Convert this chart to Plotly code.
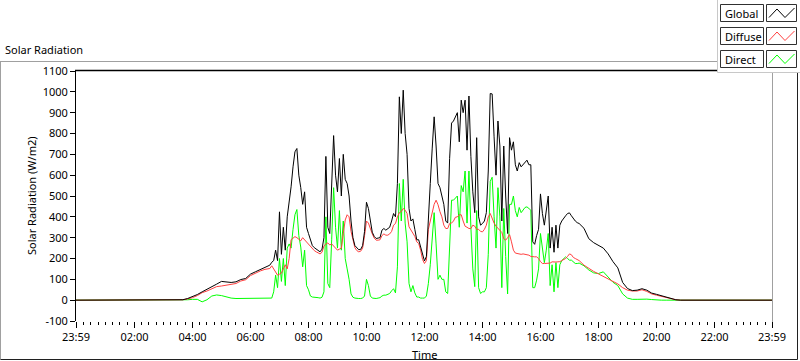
import plotly.graph_objects as go

# ---------------- data ----------------
# sample clock, minutes after midnight
early_minutes = list(range(210, 400, 10))    # 03:30 .. 06:30
day_minutes = list(range(400, 1041, 4))      # 06:40 .. 17:20
late_minutes = list(range(1050, 1261, 10))   # 17:30 .. 21:00

global_early = [0, 2, 8, 16, 27, 40, 51, 64, 77, 90, 88, 85, 88, 99, 104, 125, 136, 147, 157]
diffuse_early = [0, 2, 6, 12, 22, 36, 44, 56, 65, 68, 72, 75, 80, 92, 98, 118, 130, 140, 148]
direct_early = [0, 0, 2, 4, 4, -8, 2, 20, 25, 22, 16, 10, 8, 8, 8, 8, 8, 8, 8]

global_day = [
    168, 182, 190, 240, 190, 424, 220, 350, 240, 400,
    470, 544, 640, 712, 728, 600, 540, 460, 520, 350,
    320, 290, 262, 252, 246, 238, 232, 245, 300, 690,
    350, 320, 560, 790, 600, 520, 680, 500, 700, 580,
    560, 500, 380, 300, 262, 250, 242, 244, 262, 330,
    470, 440, 370, 326, 306, 296, 298, 300, 336, 344,
    336, 342, 350, 380, 416, 400, 560, 976, 800, 1008,
    800, 700, 440, 380, 390, 340, 290, 290, 255, 210,
    188, 210, 420, 560, 730, 880, 740, 560, 540, 500,
    460, 380, 370, 680, 850, 860, 880, 900, 760, 960,
    900, 960, 720, 980, 690, 520, 420, 780, 400, 360,
    368, 380, 420, 620, 992, 990, 784, 600, 860, 740,
    380, 740, 500, 320, 780, 720, 760, 650, 620, 660,
    640, 650, 660, 672, 650, 650, 280, 268, 310, 340,
    510, 416, 360, 420, 500, 250, 350, 230, 360, 250,
    360, 380, 395, 405, 416, 419, 405, 390, 380, 372,
    368]
diffuse_day = [
    152, 165, 150, 130, 120, 125, 130, 150, 170, 150,
    200, 290, 300, 305, 300, 290, 285, 300, 290, 280,
    270, 260, 245, 238, 232, 226, 222, 230, 260, 270,
    275, 265, 270, 260, 250, 240, 245, 250, 320, 385,
    410, 400, 330, 290, 252, 238, 232, 235, 250, 310,
    380, 370, 340, 318, 298, 288, 288, 290, 310, 318,
    312, 312, 318, 330, 360, 368, 400, 420, 425, 440,
    432, 416, 352, 336, 318, 306, 280, 272, 240, 195,
    176, 190, 340, 385, 420, 460, 480, 458, 425, 400,
    360, 344, 344, 368, 370, 380, 398, 400, 410, 410,
    380, 355, 350, 344, 344, 360, 355, 340, 340, 330,
    328, 340, 360, 400, 416, 390, 370, 355, 345, 336,
    325, 295, 288, 300, 315, 280, 240, 226, 224, 224,
    220, 222, 221, 220, 216, 210, 208, 208, 208, 200,
    185, 176, 176, 176, 176, 178, 184, 182, 183, 184,
    185, 190, 195, 200, 210, 222, 218, 205, 200, 195,
    190]
direct_day = [
    8, 10, 40, 120, 60, 200, 90, 200, 70, 250,
    270, 250, 340, 410, 435, 310, 255, 160, 240, 70,
    50, 20, 15, 15, 14, 12, 10, 14, 40, 400,
    80, 60, 290, 540, 350, 250, 430, 240, 380, 200,
    150, 100, 30, 14, 10, 8, 8, 8, 10, 20,
    100, 70, 20, 10, 8, 8, 10, 12, 20, 24,
    24, 30, 32, 45, 55, 35, 160, 560, 380, 580,
    370, 280, 80, 40, 70, 35, 15, 15, 10, 10,
    10, 20, 80, 170, 300, 420, 270, 100, 120, 100,
    100, 40, 32, 300, 480, 480, 490, 500, 350, 550,
    520, 620, 370, 620, 350, 150, 65, 430, 60, 32,
    40, 40, 60, 220, 570, 590, 400, 250, 540, 400,
    60, 440, 210, 30, 460, 460, 500, 430, 400, 445,
    420, 430, 445, 448, 440, 432, 60, 60, 96, 150,
    320, 240, 180, 240, 320, 70, 170, 40, 180, 60,
    170, 190, 200, 208, 200, 192, 192, 186, 176, 176,
    178]

global_late = [345, 295, 276, 262, 250, 222, 185, 155, 85, 56, 46, 48, 55, 48, 34, 28, 22, 16, 10, 2, 0, 0]
diffuse_late = [168, 152, 138, 126, 115, 102, 90, 78, 60, 48, 44, 44, 50, 42, 30, 24, 18, 13, 8, 2, 0, 0]
direct_late = [165, 145, 131, 128, 136, 110, 86, 70, 30, 10, 4, 4, 6, 5, 3, 0, 0, 0, 0, 0, 0, 0]

x_tick_labels = ["23:59", "02:00", "04:00", "06:00", "08:00", "10:00", "12:00",
                 "14:00", "16:00", "18:00", "20:00", "22:00", "23:59"]
y_tick_values = [-100, 0, 100, 200, 300, 400, 500, 600, 700, 800, 900, 1000, 1100]
series_names = ["Global", "Diffuse", "Direct"]
series_colors = ["#000000", "#ff4040", "#00ff00"]

# ---------------- build ----------------
DAY = "2024-01-02"
START = "2024-01-01 23:59"
END = "2024-01-02 23:59"


def stamp(m):
    return f"{DAY} {m // 60:02d}:{m % 60:02d}"


minutes = early_minutes + day_minutes + late_minutes
times = [START] + [stamp(m) for m in minutes] + [END]
series = {
    "Global": [0] + global_early + global_day + global_late + [0],
    "Diffuse": [0] + diffuse_early + diffuse_day + diffuse_late + [0],
    "Direct": [0] + direct_early + direct_day + direct_late + [0],
}

W, H = 800, 361
L, R, T, B = 76, 28, 71, 40
PW, PH = W - L - R, H - T - B


def fx(px):
    return (px - L) / PW


def fy(py):
    return (H - B - py) / PH


FONT = "Noto Sans"
FS = 11

fig = go.Figure()
# draw order: Direct, Diffuse, Global on top
for name in ["Direct", "Diffuse", "Global"]:
    col = series_colors[series_names.index(name)]
    fig.add_trace(go.Scatter(x=times, y=series[name], mode="lines", name=name,
                             line=dict(color=col, width=1), showlegend=False))

tick_vals = [START] + [f"{DAY} {h:02d}:00" for h in range(2, 23, 2)] + [END]

shapes = []


def line(x0, y0, x1, y1, color, width=1):
    shapes.append(dict(type="line", xref="paper", yref="paper",
                       x0=fx(x0), y0=fy(y0), x1=fx(x1), y1=fy(y1),
                       line=dict(color=color, width=width)))


def rect(x0, y0, x1, y1, color, fill="white", width=1):
    shapes.append(dict(type="rect", xref="paper", yref="paper",
                       x0=fx(x0), y0=fy(y0), x1=fx(x1), y1=fy(y1),
                       line=dict(color=color, width=width), fillcolor=fill))


# outer frame
line(0, 61.5, 718, 61.5, "#a0a0a0")
line(0.5, 61.5, 0.5, 359.5, "#a0a0a0")
line(0.5, 359.5, 797.5, 359.5, "#202020")
line(797.5, 72, 797.5, 359.5, "#202020")
# plot frame
line(75, 70.5, 718, 70.5, "#000000", 1.3)
line(772.5, 72, 772.5, 322, "#a0a0a0")

# legend panel
rect(717.5, -2, 802, 72.5, "#c8c8c8")
annotations = []
row_tops = [4, 27, 50]
for name, col, top in zip(series_names, series_colors, row_tops):
    rect(720.5, top + 0.5, 763.5, top + 17.5, "#303030")
    rect(766.5, top + 0.5, 796.5, top + 17.5, "#303030")
    pts = [(769, top + 13.5), (777, top + 5), (785, top + 13.5), (794.5, top + 4)]
    path = "M " + " L ".join(f"{fx(a)},{fy(b)}" for a, b in pts)
    shapes.append(dict(type="path", xref="paper", yref="paper", path=path,
                       line=dict(color=col, width=1)))
    annotations.append(dict(text=name, xref="paper", yref="paper",
                            x=fx(723), y=fy(top + 9.5), xanchor="left", yanchor="middle",
                            showarrow=False, font=dict(family=FONT, size=FS, color="#000000")))

annotations.append(dict(text="Time", xref="paper", yref="paper", x=fx(425), y=fy(354),
                        xanchor="center", yanchor="middle", showarrow=False,
                        font=dict(family=FONT, size=FS, color="#000000")))
annotations.append(dict(text="Solar Radiation (W/m2)", xref="paper", yref="paper",
                        x=fx(31), y=fy(196), xanchor="center", yanchor="middle",
                        textangle=-90, showarrow=False,
                        font=dict(family=FONT, size=FS, color="#000000")))

fig.update_layout(
    width=W, height=H,
    margin=dict(l=L, r=R, t=T, b=B, pad=0),
    paper_bgcolor="white", plot_bgcolor="white",
    font=dict(family=FONT, size=FS, color="#000000"),
    title=dict(text="Solar Radiation", xref="container", yref="container",
               x=5 / W, y=1 - 50 / H, xanchor="left", yanchor="middle",
               font=dict(family=FONT, size=FS, color="#000000")),
    shapes=shapes,
    annotations=annotations,
    hovermode=False,
    xaxis=dict(type="date", range=[START, END], showgrid=False, zeroline=False,
               showline=False, tickmode="array", tickvals=tick_vals, ticktext=x_tick_labels,
               ticks="outside", ticklen=6, tickcolor="#000000", tickwidth=1,
               tickfont=dict(family=FONT, size=FS, color="#000000"),
               minor=dict(ticks="outside", ticklen=3, tickcolor="#000000", tickwidth=1,
                          dtick=15 * 60 * 1000, tick0=f"{DAY} 00:00", showgrid=False)),
    yaxis=dict(range=[-100, 1100], showgrid=False, zeroline=False,
               showline=True, linecolor="#000000", linewidth=1,
               tickmode="array", tickvals=y_tick_values,
               ticktext=[str(v) for v in y_tick_values],
               ticks="outside", ticklen=5, tickcolor="#000000",
               tickfont=dict(family=FONT, size=FS, color="#000000")),
)

fig.write_html("out.html",
               config={"displayModeBar": False, "staticPlot": True},
               post_script="document.body.style.margin='0';document.body.style.overflow='hidden';")
